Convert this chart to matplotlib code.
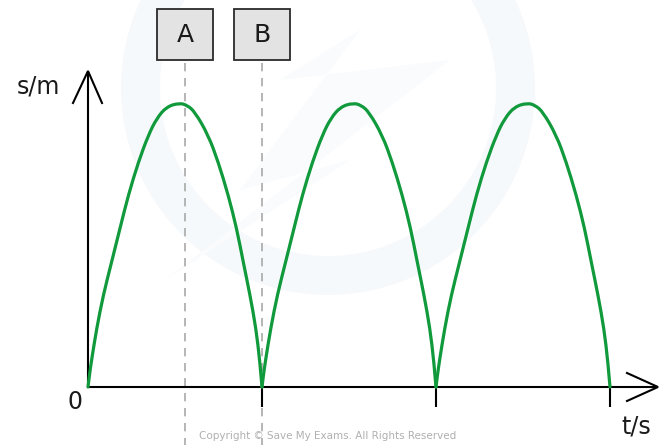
import numpy as np
import matplotlib
matplotlib.use("Agg")
import matplotlib.pyplot as plt
from matplotlib.patches import Rectangle, Polygon, PathPatch
from matplotlib.path import Path

# ---- data ----
# one bounce: phase within the bounce (0..1) and displacement relative to peak
arch_phase = [0.000, 0.008, 0.019, 0.050, 0.088, 0.136, 0.184, 0.232, 0.290,
              0.347, 0.395, 0.452, 0.525, 0.570, 0.614, 0.691, 0.748, 0.806,
              0.854, 0.892, 0.931, 0.965, 0.988, 1.000]
arch_height = [0.000, 0.040, 0.089, 0.207, 0.324, 0.441, 0.559, 0.676, 0.793,
               0.887, 0.946, 0.987, 1.000, 0.992, 0.969, 0.887, 0.793, 0.676,
               0.559, 0.441, 0.324, 0.207, 0.089, 0.000]
bounce_starts = [0, 1, 2]
tick_times = [1, 2, 3]
marker_times = [0.557, 1.0]
marker_labels = ["A", "B"]
x_label = "t/s"
y_label = "s/m"
origin_label = "0"
copyright_text = "Copyright \u00a9 Save My Exams. All Rights Reserved"

# ---- figure geometry ----
W, H = 663, 445
fig = plt.figure(figsize=(W / 100, H / 100), dpi=100)
ax = fig.add_axes([0, 0, 1, 1])
ax.set_axis_off()

PX_T, PX_S = 174.0, 284.0
OX, OY = 88.0, 387.0
ax.set_xlim(-OX / PX_T, (W - OX) / PX_T)
ax.set_ylim(-(H - OY) / PX_S, OY / PX_S)

def dx(px):
    return px / PX_T

def dy(px):
    return px / PX_S

def P(xpx, ypx):  # pixel (from top-left) -> data
    return (xpx - OX) / PX_T, (OY - ypx) / PX_S

# faint watermark ring
wm_c = P(328, 88)
theta = np.linspace(0, 2 * np.pi, 200)
outer = np.c_[wm_c[0] + dx(207) * np.cos(theta), wm_c[1] + dy(207) * np.sin(theta)]
inner = np.c_[wm_c[0] + dx(168) * np.cos(theta[::-1]), wm_c[1] + dy(168) * np.sin(theta[::-1])]
ax.add_patch(Polygon(np.vstack([outer, inner]), closed=True, facecolor="#f6f9fc",
                     edgecolor="none", zorder=0))
z_pts = [P(360, 30), P(280, 80), P(450, 60), P(165, 280), P(350, 160), P(240, 190)]
ax.add_patch(Polygon(z_pts, closed=True, facecolor="#f9fbfd", edgecolor="none", zorder=0))

# dashed marker lines and label boxes
for t, lab in zip(marker_times, marker_labels):
    ax.plot([t, t], [P(0, 63)[1], P(0, 445)[1]], color="#a9a9a9", lw=1.2,
            dashes=(5, 4), zorder=1, solid_capstyle="butt")
    bx = t - dx(28)
    by = P(0, 60)[1]
    ax.add_patch(Rectangle((bx, by), dx(56), dy(51), facecolor="#e3e3e3",
                           edgecolor="#2a2a2a", lw=1.3, zorder=3))
    ax.text(t, by + dy(25.5), lab, ha="center", va="center", fontsize=18,
            color="#1a1a1a", zorder=4)

# axes
ax.plot([0, P(657, 0)[0]], [0, 0], color="black", lw=1.5, zorder=2,
        solid_capstyle="butt")
ax.plot([0, 0], [0, P(0, 72)[1]], color="black", lw=1.5, zorder=2,
        solid_capstyle="butt")
tip = P(658, 387)
ax.plot([P(627, 0)[0], tip[0], P(627, 0)[0]], [P(0, 373)[1], tip[1], P(0, 401)[1]],
        color="black", lw=1.5, zorder=2, solid_joinstyle="miter")
tip = P(88, 71)
ax.plot([P(73, 0)[0], tip[0], P(102, 0)[0]], [P(0, 103)[1], tip[1], P(0, 103)[1]],
        color="black", lw=1.5, zorder=2, solid_joinstyle="miter")

for t in tick_times:
    ax.plot([t, t], [0, -dy(20)], color="black", lw=1.5, zorder=2,
            solid_capstyle="butt")

# curve: drawn through the read points as a smooth quadratic path
def smooth_path(xs, ys):
    pts = np.c_[xs, ys]
    verts = [pts[0], (pts[0] + pts[1]) / 2]
    codes = [Path.MOVETO, Path.LINETO]
    for i in range(1, len(pts) - 1):
        verts.append(pts[i])
        verts.append((pts[i] + pts[i + 1]) / 2 if i < len(pts) - 2 else pts[i + 1])
        codes += [Path.CURVE3, Path.CURVE3]
    return Path(verts, codes)

for start in bounce_starts:
    path = smooth_path(np.array(arch_phase) + start, np.array(arch_height))
    ax.add_patch(PathPatch(path, facecolor="none", edgecolor="#109a3c", lw=2.3,
                           zorder=5, joinstyle="round", capstyle="round"))

# labels
ax.text(*P(38, 86), y_label, ha="center", va="center", fontsize=17, color="#1a1a1a")
ax.text(*P(636, 426), x_label, ha="center", va="center", fontsize=17, color="#1a1a1a")
ax.text(*P(75, 402), origin_label, ha="center", va="center", fontsize=17, color="#1a1a1a")
ax.text(*P(328, 436), copyright_text, ha="center", va="center", fontsize=7.5,
        color="#b0b0b0", zorder=0)

fig.savefig("out.png", dpi=100)
